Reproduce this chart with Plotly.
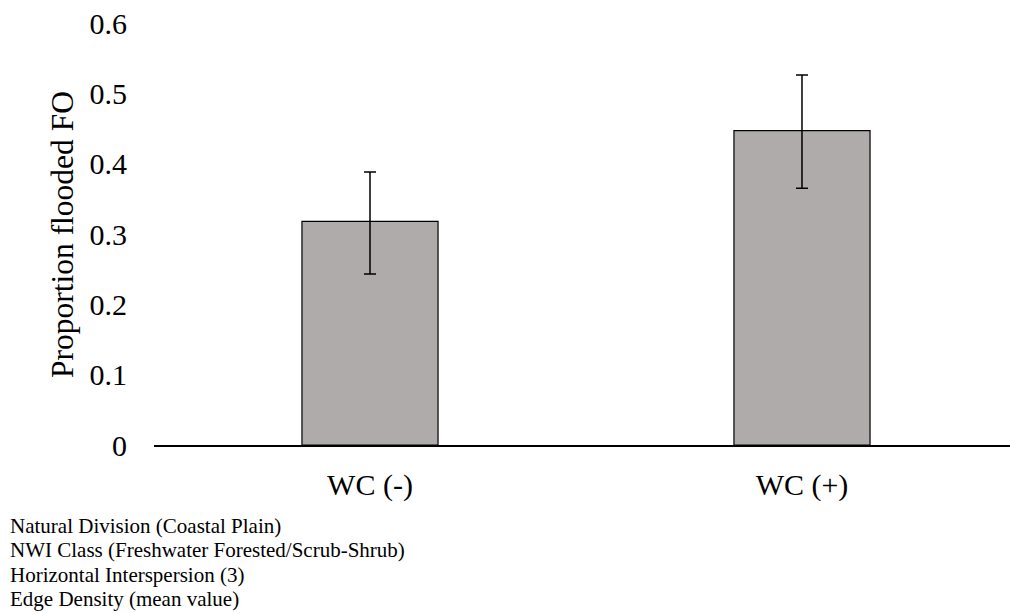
import plotly.graph_objects as go

categories = ["WC (-)", "WC (+)"]
values = [0.318, 0.447]
err_plus = [0.070, 0.079]
err_minus = [0.075, 0.082]
y_ticks = [0, 0.1, 0.2, 0.3, 0.4, 0.5, 0.6]
y_tick_labels = ["0", "0.1", "0.2", "0.3", "0.4", "0.5", "0.6"]
footnotes = [
    "Natural Division (Coastal Plain)",
    "NWI Class (Freshwater Forested/Scrub-Shrub)",
    "Horizontal Interspersion (3)",
    "Edge Density (mean value)",
]

W, H = 1010, 613
L, R, T, B = 154, 0, 23, 168
pw, ph = W - L - R, H - T - B

FONT = "Liberation Serif, Times New Roman, serif"

fig = go.Figure()
fig.add_trace(go.Bar(
    x=[0, 1], y=values, width=0.315,
    marker=dict(color="#AFABAB", line=dict(color="#000000", width=1.2)),
    error_y=dict(type="data", symmetric=False, array=err_plus, arrayminus=err_minus,
                 color="#000000", thickness=1.5, width=6),
    showlegend=False,
))

def px2x(px):
    return (px - L) / pw

def px2y(py):
    return (H - B - py) / ph

annotations = [dict(
    text="Proportion flooded FO", textangle=-90, xref="paper", yref="paper",
    x=px2x(62), y=px2y(235), xanchor="center", yanchor="middle", showarrow=False,
    font=dict(family=FONT, size=31.5, color="#000000"),
)]
for i, line in enumerate(footnotes):
    annotations.append(dict(
        text=line, xref="paper", yref="paper", x=px2x(8), y=px2y(526 + 24.3 * i),
        xanchor="left", yanchor="middle", showarrow=False, align="left",
        font=dict(family=FONT, size=21, color="#000000"),
    ))

fig.update_layout(
    width=W, height=H,
    margin=dict(l=L, r=R, t=T, b=B, pad=0),
    paper_bgcolor="white", plot_bgcolor="white",
    font=dict(family=FONT, size=30, color="#000000"),
    xaxis=dict(range=[-0.5, 1.4815], tickvals=[0, 1], ticktext=categories,
               showline=True, linecolor="#000000", linewidth=1.8, showgrid=False,
               zeroline=False, ticks="", ticklabelstandoff=12,
               tickfont=dict(family=FONT, size=30, color="#000000")),
    yaxis=dict(range=[0, 0.6], tickvals=y_ticks, ticktext=y_tick_labels,
               showline=False, showgrid=False, zeroline=False, ticks="",
               ticklabelstandoff=26,
               tickfont=dict(family=FONT, size=30, color="#000000")),
    annotations=annotations,
)

fig.write_html("out.html")
